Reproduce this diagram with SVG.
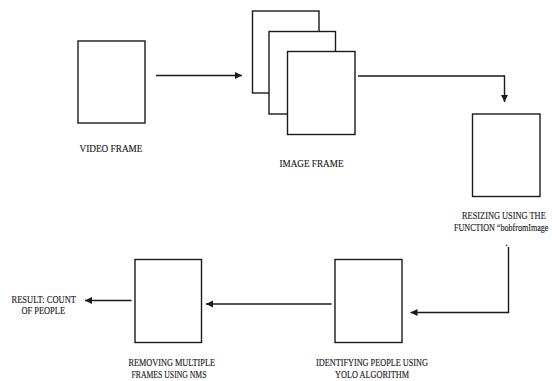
<svg xmlns="http://www.w3.org/2000/svg" width="552" height="381" viewBox="0 0 552 381">
<style>
.box{fill:#fff;stroke:#1a1a1a;stroke-width:1.4}
.ln{fill:none;stroke:#1a1a1a;stroke-width:1.4}
text{font-family:"Liberation Serif","Times New Roman",serif;font-size:11px;fill:#1a1a1a;stroke:#1a1a1a;stroke-width:0.15}
</style>
<defs>
<marker id="ah" markerWidth="8" markerHeight="8" refX="7" refY="4" orient="auto" markerUnits="userSpaceOnUse">
<path d="M0,0.5 L7,4 L0,7.5 Z" fill="#1a1a1a"/>
</marker>
</defs>
<rect width="552" height="381" fill="#fff"/>
<g id="connectors">
<line class="ln" x1="156" y1="75.5" x2="242" y2="75.5" marker-end="url(#ah)"/>
<polyline class="ln" points="358,76 504.5,76 504.5,102" marker-end="url(#ah)"/>
<polyline class="ln" points="508.5,247 508.5,312.5 410.5,312.5" marker-end="url(#ah)"/>
<line class="ln" x1="331.5" y1="304" x2="206" y2="304" marker-end="url(#ah)"/>
<line class="ln" x1="131.5" y1="300.5" x2="85" y2="300.5" marker-end="url(#ah)"/>
</g>
<g id="video-frame">
<rect class="box" x="78" y="41" width="67" height="82"/>
<text x="79.5" y="152" textLength="63" lengthAdjust="spacingAndGlyphs">VIDEO FRAME</text>
</g>
<g id="image-frame">
<rect class="box" x="252.5" y="11" width="66.5" height="82"/>
<rect class="box" x="269" y="31.5" width="66.5" height="82.5"/>
<rect class="box" x="287.5" y="51.5" width="67.5" height="83"/>
<text x="279.5" y="166.5" textLength="64" lengthAdjust="spacingAndGlyphs">IMAGE FRAME</text>
</g>
<g id="resizing">
<rect class="box" x="472.5" y="114" width="67.5" height="82.5"/>
<text transform="translate(462,219) scale(0.76,1)">RESIZING USING THE</text>
<text transform="translate(454,230.5) scale(0.735,1)">FUNCTION “bobfromImage</text>
<text x="505" y="246">.</text>
</g>
<g id="identifying">
<rect class="box" x="335" y="259.5" width="67" height="83"/>
<text x="316" y="366" textLength="112" lengthAdjust="spacingAndGlyphs">IDENTIFYING PEOPLE USING</text>
<text x="335" y="377.5" textLength="74" lengthAdjust="spacingAndGlyphs">YOLO ALGORITHM</text>
</g>
<g id="removing">
<rect class="box" x="135" y="259.5" width="66.5" height="83"/>
<text x="128.5" y="366" textLength="86.5" lengthAdjust="spacingAndGlyphs">REMOVING MULTIPLE</text>
<text x="131.5" y="377.5" textLength="75" lengthAdjust="spacingAndGlyphs">FRAMES USING NMS</text>
</g>
<g id="result">
<text x="11.5" y="302.5" textLength="64.5" lengthAdjust="spacingAndGlyphs">RESULT: COUNT</text>
<text x="21.5" y="314" textLength="43.5" lengthAdjust="spacingAndGlyphs">OF PEOPLE</text>
</g>
</svg>
